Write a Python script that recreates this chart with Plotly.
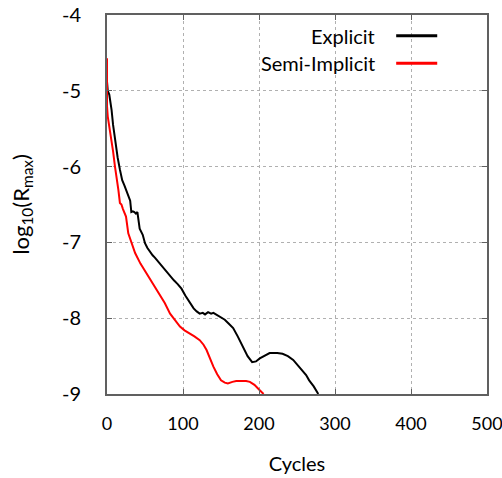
import plotly.graph_objects as go

explicit_x = [0, 1, 3, 4, 6, 8, 10.5, 14, 17, 20, 23, 26, 29, 30.5, 32, 34, 36, 38, 40, 43, 47, 50, 53, 56, 60, 63, 67, 70, 75, 80, 83, 88, 93, 98, 103, 109, 114, 118, 122, 126, 129, 133, 137, 140, 145, 150, 155, 160, 166, 172, 179, 185, 191, 196, 201, 208, 214, 218, 224, 231, 238, 245, 249, 255, 262, 266, 272, 278]
explicit_y = [-4.88, -5.0, -5.05, -5.1, -5.25, -5.45, -5.65, -5.88, -6.04, -6.18, -6.25, -6.33, -6.42, -6.45, -6.6, -6.59, -6.6, -6.62, -6.6, -6.82, -6.9, -7.01, -7.07, -7.12, -7.17, -7.2, -7.25, -7.28, -7.34, -7.4, -7.45, -7.5, -7.55, -7.61, -7.7, -7.8, -7.87, -7.91, -7.94, -7.93, -7.95, -7.92, -7.94, -7.93, -7.96, -7.98, -8.02, -8.07, -8.13, -8.24, -8.38, -8.5, -8.58, -8.57, -8.53, -8.49, -8.46, -8.46, -8.46, -8.47, -8.5, -8.55, -8.6, -8.67, -8.75, -8.82, -8.9, -9.0]

semi_x = [0, 0, 1, 2, 4, 6, 8, 10.5, 13, 15, 17, 19, 21, 23, 25, 28, 32, 37, 44, 52, 60, 70, 76, 83, 90, 96, 102, 109, 115, 122, 127, 131, 135, 140, 145, 150, 155, 159, 165, 170, 176, 183, 188, 194, 200, 206]
semi_y = [-4.57, -5.2, -5.34, -5.4, -5.54, -5.69, -5.8, -6.0, -6.15, -6.31, -6.48, -6.5, -6.56, -6.6, -6.66, -6.88, -7.0, -7.14, -7.28, -7.41, -7.53, -7.69, -7.8, -7.94, -8.04, -8.11, -8.16, -8.2, -8.24, -8.29, -8.35, -8.42, -8.53, -8.64, -8.74, -8.82, -8.85, -8.86, -8.84, -8.83, -8.83, -8.83, -8.84, -8.88, -8.94, -9.0]

series_names = ["Explicit", "Semi-Implicit"]
series_colors = ["#000000", "#ff0000"]
x_ticks = [0, 100, 200, 300, 400, 500]
y_ticks = [-4, -5, -6, -7, -8, -9]

FONT = "Lato, Open Sans, sans-serif"

fig = go.Figure()
for xs, ys, name, col in [(explicit_x, explicit_y, series_names[0], series_colors[0]),
                          (semi_x, semi_y, series_names[1], series_colors[1])]:
    fig.add_trace(go.Scatter(x=xs, y=ys, mode="lines", name=name,
                             line=dict(color=col, width=2), showlegend=False,
                             cliponaxis=True))

# custom legend (text on left, line sample on right)
leg_y = [0.945, 0.873]
for name, col, yy in zip(series_names, series_colors, leg_y):
    fig.add_annotation(x=0.711, y=yy, xref="paper", yref="paper", text=name,
                       showarrow=False, xanchor="right", yanchor="middle",
                       font=dict(family=FONT, size=20, color="#000"))
    fig.add_shape(type="line", xref="paper", yref="paper", x0=0.761, x1=0.869,
                  y0=yy, y1=yy, line=dict(color=col, width=3))

# y-axis title as rotated annotation
fig.add_annotation(x=-0.226, y=0.5, xref="paper", yref="paper",
                   text="log<sub>10</sub>(R<sub>max</sub>)", textangle=-90,
                   showarrow=False, xanchor="center", yanchor="middle",
                   font=dict(family=FONT, size=22, color="#000"))

axis_common = dict(showline=True, linecolor="#606060", linewidth=2, mirror="ticks",
                   ticks="inside", ticklen=5, tickcolor="#606060", tickwidth=1,
                   showgrid=True, gridcolor="#b0b0b0", griddash="dot", gridwidth=1,
                   zeroline=False, ticklabeloverflow="allow", automargin=False)

fig.update_xaxes(range=[0, 500], tickvals=x_ticks, ticktext=[str(v) for v in x_ticks],
                 title=dict(text="Cycles", font=dict(family=FONT, size=20, color="#000"), standoff=24),
                 ticklabelstandoff=12, tickfont=dict(family=FONT, size=18, color="#000"),
                 **axis_common)
fig.update_yaxes(range=[-9, -4], tickvals=y_ticks, ticktext=[str(v) for v in y_ticks],
                 ticklabelstandoff=20, tickfont=dict(family=FONT, size=20, color="#000"),
                 **axis_common)

fig.update_layout(width=502, height=478, margin=dict(l=107, r=15, t=15, b=84),
                  plot_bgcolor="white", paper_bgcolor="white")

fig.write_html("out.html")
